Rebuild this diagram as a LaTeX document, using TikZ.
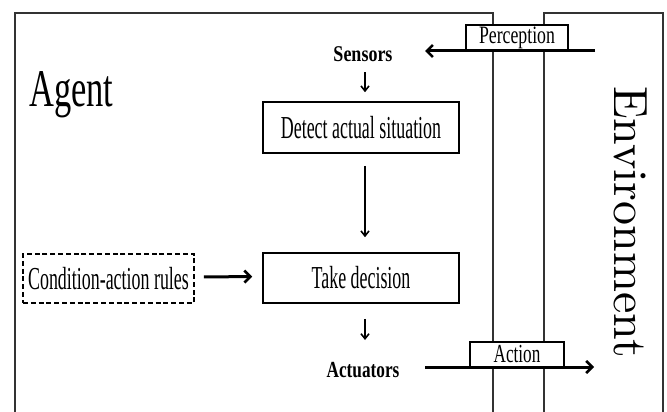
\documentclass[tikz,border=0pt]{standalone}
\usepackage{fontspec}
\usepackage{graphicx}
\usetikzlibrary{arrows.meta}
\newfontfamily\tnr{Liberation Serif}
\newfontfamily\lmten{lmroman10-regular}[Extension=.otf]
% condensed Times-like text: size, horizontal squeeze, text
\newcommand{\cond}[3]{{\tnr\fontsize{#1}{#1}\selectfont\scalebox{#2}[1]{#3}}}
\tikzset{
  frame/.style={draw=black!80, line width=1.1pt},
  box/.style={draw, line width=1.6pt, fill=white, inner sep=0pt},
  tag/.style={inner sep=0pt},
  bigarrow/.style={line width=3pt, -{Straight Barb[length=6pt,width=12pt,line width=2.6pt]}},
  smallarrow/.style={line width=1.7pt, -{Straight Barb[length=5pt,width=8pt,line width=1.6pt]}},
}
\begin{document}
\begin{tikzpicture}[x=1pt,y=-1pt]
\useasboundingbox (0,0) rectangle (667,412);

% agent and environment frames (open at the bottom)
\draw[frame] (15,412) -- (15,13) -- (493,13) -- (493,412);
\draw[frame] (544,412) -- (544,13) -- (663,13) -- (663,412);

% labels of the two frames
\node[tag, anchor=base west] (agent) at (29,106.5) {\cond{53}{0.65}{Agent}};
\node[tag, rotate=-90] (env) at (631,222) {\lmten\fontsize{48}{48}\selectfont Environment};

% agent internals
\node[tag, anchor=base] (sensors) at (363,62) {\cond{22.5}{0.8}{\bfseries Sensors}};
\node[box, minimum width=196pt, minimum height=51pt] (detect) at (361,127.5)
  {\cond{32}{0.56}{Detect actual situation}};
\node[box, minimum width=196pt, minimum height=50pt] (take) at (361,278)
  {\cond{32}{0.56}{Take decision}};
\node[box, dashed, dash pattern=on 5pt off 2.8pt, minimum width=171pt, minimum height=49pt] (rules) at (108.5,278.5)
  {\cond{32}{0.56}{Condition-action rules}};
\node[tag, anchor=base] (actuators) at (363,377) {\cond{23}{0.75}{\bfseries Actuators}};

% interface boxes
\node[box, minimum width=102pt, minimum height=26pt] (perception) at (517,38)
  {\cond{25}{0.71}{Perception}};
\node[box, minimum width=94pt, minimum height=25pt] (action) at (517,354.5)
  {\cond{26}{0.66}{Action}};

% signal path ends
\coordinate (percin) at (595,51);
\coordinate (percout) at (425,51);
\coordinate (actin) at (425,367);
\coordinate (actout) at (594,367);

% connectors
\draw[bigarrow] (percin) -- (percout);
\draw[bigarrow] (actin) -- (actout);
\draw[smallarrow, shorten <=10pt, shorten >=9pt] ([xshift=2pt]sensors.south) -- ([xshift=4pt]detect.north);
\draw[smallarrow, shorten <=12pt, shorten >=15pt] ([xshift=4pt]detect.south) -- ([xshift=4pt]take.north);
\draw[smallarrow, shorten <=15pt, shorten >=21pt] ([xshift=4pt]take.south) -- ([xshift=2pt,yshift=16pt]actuators.base);
\draw[bigarrow, shorten <=9pt, shorten >=10pt] ([yshift=1.5pt]rules.east) -- ([yshift=1.5pt]take.west);
\end{tikzpicture}
\end{document}
